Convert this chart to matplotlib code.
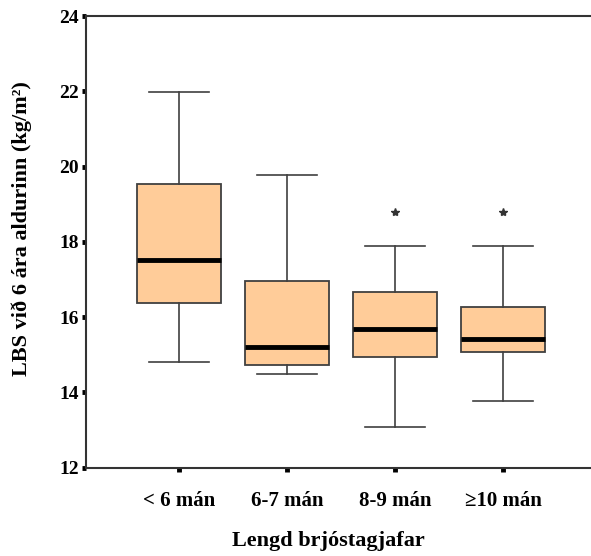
import matplotlib
matplotlib.use("Agg")
import matplotlib.pyplot as plt

# Data (BMI at age 6 by breastfeeding duration)
categories = ["< 6 mán", "6-7 mán", "8-9 mán", "\u226510 mán"]
whisker_low = [14.8, 14.48, 13.07, 13.78]
q1 = [16.38, 14.74, 14.94, 15.07]
medians = [17.51, 15.2, 15.68, 15.42]
q3 = [19.55, 16.95, 16.66, 16.26]
whisker_high = [21.98, 19.77, 17.89, 17.89]
outliers = [[], [], [18.8], [18.8]]

yticks = [12, 14, 16, 18, 20, 22, 24]

plt.rcParams["font.family"] = ["Liberation Serif", "DejaVu Serif"]
plt.rcParams["font.weight"] = "bold"

fig = plt.figure(figsize=(5.91, 5.56), dpi=100)
ax = fig.add_axes([0.1455, 0.159, 0.8545, 0.812])

stats = []
for i, cat in enumerate(categories):
    stats.append({
        "label": cat,
        "whislo": whisker_low[i],
        "q1": q1[i],
        "med": medians[i],
        "q3": q3[i],
        "whishi": whisker_high[i],
        "fliers": outliers[i],
    })

edge = "#404040"
ax.bxp(stats, positions=range(1, len(categories) + 1), widths=0.78,
       patch_artist=True, showfliers=True,
       boxprops=dict(facecolor="#FFCC99", edgecolor=edge, linewidth=1.3),
       medianprops=dict(color="black", linewidth=3.5, solid_capstyle="butt"),
       whiskerprops=dict(color=edge, linewidth=1.2),
       capprops=dict(color=edge, linewidth=1.2),
       capwidths=0.55,
       flierprops=dict(marker="*", markersize=6, markerfacecolor="#333333",
                       markeredgecolor="#333333"))

ax.set_xlim(0.139, 4.815)
ax.set_ylim(12, 24)
ax.set_yticks(yticks)
ax.set_yticklabels([str(t) for t in yticks], fontsize=14, fontweight="bold")
ax.set_xticks(range(1, len(categories) + 1))
ax.set_xticklabels(categories, fontsize=15, fontweight="bold")

ax.tick_params(axis="y", direction="out", length=3, width=3.5, pad=2, color="black")
ax.tick_params(axis="x", direction="out", length=3, width=3.5, pad=14, color="black")

ax.spines["right"].set_visible(False)
for s in ["left", "bottom", "top"]:
    ax.spines[s].set_color("#333333")
    ax.spines[s].set_linewidth(1.5)

ax.set_ylabel("LBS við 6 ára aldurinn (kg/m\u00b2)", fontsize=16, fontweight="bold")
ax.yaxis.set_label_coords(-0.107, 0.53)
ax.set_xlabel("Lengd brjóstagjafar", fontsize=16, fontweight="bold")
ax.xaxis.set_label_coords(0.48, -0.14)

fig.savefig("out.png", dpi=100)
